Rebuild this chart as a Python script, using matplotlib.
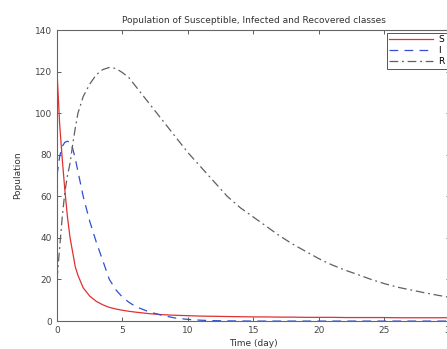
import matplotlib
matplotlib.use("Agg")
import matplotlib.pyplot as plt

# values
t = [0, 0.2, 0.4, 0.6, 0.8, 1.0, 1.2, 1.4, 1.6, 2.0, 2.5, 3.0, 3.5, 4.0, 4.5,
     5, 5.5, 6, 7, 8, 9, 10, 11, 12, 13, 14, 15, 16, 17, 18, 19, 20,
     21, 22, 23, 24, 25, 26, 27, 28, 29, 30]
S = [120, 95, 78, 63, 50, 40, 33, 26, 22, 16, 12, 9.5, 7.8, 6.6, 5.8,
     5.2, 4.7, 4.3, 3.6, 3.1, 2.8, 2.6, 2.4, 2.3, 2.2, 2.1, 2.0, 2.0, 1.9, 1.9, 1.8, 1.8,
     1.8, 1.7, 1.7, 1.7, 1.7, 1.6, 1.6, 1.6, 1.6, 1.6]
I = [70, 79, 84, 86, 86.5, 86, 83, 78, 72, 60, 48, 38, 29, 20, 15,
     11.5, 9, 7, 4.5, 2.8, 1.5, 0.8, 0.4, 0.2, 0.1, 0.05, 0, 0, 0, 0, 0, 0,
     0, 0, 0, 0, 0, 0, 0, 0, 0, 0]
R = [20, 35, 50, 62, 70, 76, 85, 93, 100, 108, 114, 118.5, 121, 122, 121.5,
     119.5, 117, 113, 105, 97, 89, 81, 74, 67, 60, 54.5, 50, 45.5, 41, 37, 33.5, 30,
     27, 24.5, 22.3, 20, 18, 16.3, 15, 13.7, 12.5, 11.4]

xticks = [0, 5, 10, 15, 20, 25, 30]
yticks = [0, 20, 40, 60, 80, 100, 120, 140]

fig = plt.figure(figsize=(4.47, 3.49), dpi=100)
ax = fig.add_axes([0.1275, 0.080, 0.879, 0.834])

ax.plot(t, S, color='#e03030', lw=0.9, label='S')
ax.plot(t, I, color='#3050d0', lw=0.9, ls=(0, (7, 5)), label='I')
ax.plot(t, R, color='#606060', lw=0.9, ls=(0, (7, 3, 1.5, 3)), label='R')

ax.set_xlim(0, 30)
ax.set_ylim(0, 140)
ax.set_xticks(xticks)
ax.set_yticks(yticks)
ax.tick_params(direction='in', top=True, right=True, labelsize=6.5,
               colors='#444444', length=3, width=0.6)
for sp in ax.spines.values():
    sp.set_color('#666666')
    sp.set_linewidth(0.8)

ax.set_title('Population of Susceptible, Infected and Recovered classes',
             fontsize=6.5, color='#333333', pad=5)
ax.set_xlabel('Time (day)', fontsize=6.5, color='#333333', labelpad=3)
ax.set_ylabel('Population', fontsize=6.5, color='#333333', labelpad=9)

leg = ax.legend(loc='upper right', fontsize=6.5, fancybox=False, framealpha=1,
                handlelength=4.8, handletextpad=0.6, borderpad=0.3,
                labelspacing=0.2, borderaxespad=0.3)
leg.get_frame().set_edgecolor('#555555')
leg.get_frame().set_linewidth(0.7)

fig.savefig('out.png', dpi=100)
